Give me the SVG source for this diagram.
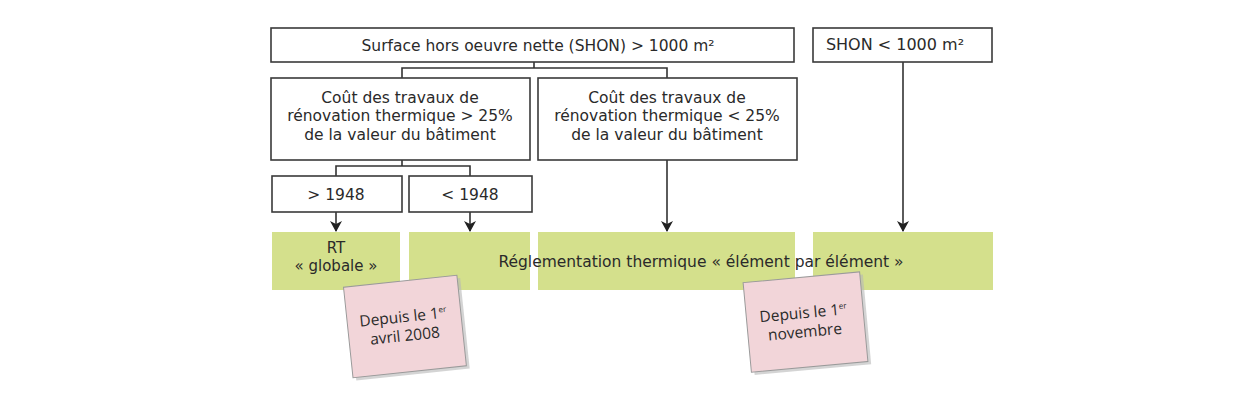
<svg xmlns="http://www.w3.org/2000/svg" width="1250" height="400" viewBox="0 0 1250 400">
<defs>
<style>
.box{fill:#fff;stroke:#3a3a3a;stroke-width:1.6}
.green{fill:#d4e08c}
.note{fill:#f2d5d9;stroke:#9a9a9a;stroke-width:1}
.shadow{fill:#b8b8b8;opacity:0.6}
.t{font-family:"DejaVu Sans",Verdana,sans-serif;font-size:15.5px;fill:#2a2a2a;text-anchor:middle}
.n{font-family:"Open Sans","Liberation Sans",sans-serif;font-size:15.5px;fill:#2a2a2a;text-anchor:middle}
.c{fill:none;stroke:#333;stroke-width:1.6}
</style>
<marker id="arr" markerWidth="12" markerHeight="12" refX="10" refY="6" orient="auto" markerUnits="userSpaceOnUse">
<path d="M0,0 L11,6 L0,12 L3,6 z" fill="#222"/>
</marker>
</defs>
<rect width="1250" height="400" fill="#fff"/>
<g id="connectors">
<path class="c" d="M534,62 V68 M402,78 V68 H667 V78"/>
<path class="c" d="M402,160 V166 M336,176 V166 H470 V176"/>
<path class="c" d="M336,212 V231" marker-end="url(#arr)"/>
<path class="c" d="M470,212 V231" marker-end="url(#arr)"/>
<path class="c" d="M667,160 V231" marker-end="url(#arr)"/>
<path class="c" d="M903,62 V231" marker-end="url(#arr)"/>
</g>
<g id="shon-sup">
<rect class="box" x="271" y="28" width="523" height="34"/>
<text class="t" x="538" y="51">Surface hors oeuvre nette (SHON) &gt; 1000 m²</text>
</g>
<g id="shon-inf">
<rect class="box" x="813" y="28" width="179" height="34"/>
<text class="t" x="895" y="50" style="font-size:16px">SHON &lt; 1000 m²</text>
</g>
<g id="cout-sup">
<rect class="box" x="271" y="78" width="259" height="82"/>
<text class="t" x="400" y="103">Coût des travaux de</text>
<text class="t" x="400" y="121">rénovation thermique &gt; 25%</text>
<text class="t" x="400" y="140">de la valeur du bâtiment</text>
</g>
<g id="cout-inf">
<rect class="box" x="538" y="78" width="259" height="82"/>
<text class="t" x="667" y="103">Coût des travaux de</text>
<text class="t" x="667" y="121">rénovation thermique &lt; 25%</text>
<text class="t" x="667" y="140">de la valeur du bâtiment</text>
</g>
<g id="apres1948">
<rect class="box" x="272" y="176" width="130" height="36"/>
<text class="t" x="336" y="200">&gt; 1948</text>
</g>
<g id="avant1948">
<rect class="box" x="409" y="176" width="123" height="36"/>
<text class="t" x="470" y="200">&lt; 1948</text>
</g>
<g id="rt-globale">
<rect class="green" x="272" y="232" width="128" height="58"/>
<text class="t" x="336" y="253" style="font-size:15px">RT</text>
<text class="t" x="336" y="271" style="font-size:15px">« globale »</text>
</g>
<g id="rt-element">
<rect class="green" x="409" y="232" width="121" height="58"/>
<rect class="green" x="538" y="232" width="257" height="58"/>
<rect class="green" x="813" y="232" width="180" height="58"/>
<text class="t" x="701" y="267">Réglementation thermique « élément par élément »</text>
</g>
<g id="note-2008" transform="rotate(-6 405 327)">
<rect class="shadow" x="351" y="284" width="114" height="91"/>
<rect class="note" x="348" y="281" width="114" height="91"/>
<text class="n" x="404" y="322">Depuis le 1<tspan dy="-6" style="font-size:8px">er</tspan></text>
<text class="n" x="404" y="341">avril 2008</text>
</g>
<g id="note-novembre" transform="rotate(-5.3 806 322)">
<rect class="shadow" x="750" y="280" width="117" height="90"/>
<rect class="note" x="747" y="277" width="117" height="90"/>
<text class="n" x="804" y="318">Depuis le 1<tspan dy="-6" style="font-size:8px">er</tspan></text>
<text class="n" x="804" y="337">novembre</text>
</g>
</svg>
